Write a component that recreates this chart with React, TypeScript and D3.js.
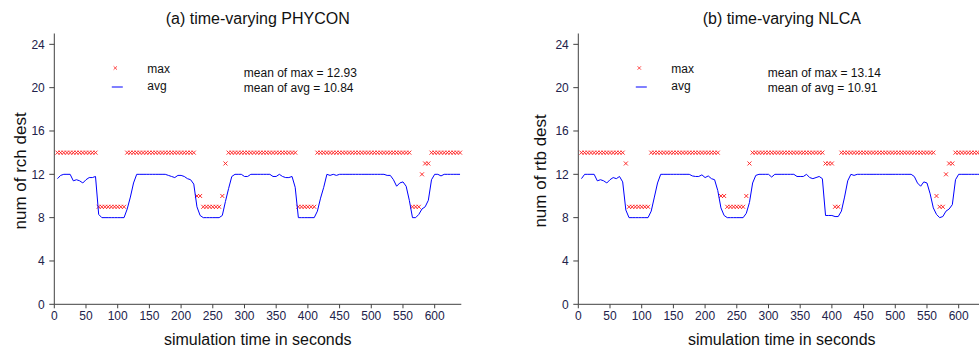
import { useEffect, useRef } from 'react'
import * as d3 from 'd3'

// sampling every 5 s, first sample at t = 5
const STEP = 5

// (a) time-varying PHYCON
const phyconAvg = [
  11.6, 11.9, 12.0, 12.0, 12.0, 11.4, 11.5, 11.4, 11.2, 11.5,
  11.7, 11.7, 11.8, 8.3, 8.0, 8.0, 8.0, 8.0, 8.0, 8.0,
  8.0, 8.0, 8.8, 9.9, 11.2, 12.0, 12.0, 12.0, 12.0, 12.0,
  12.0, 12.0, 12.0, 12.0, 12.0, 11.9, 11.8, 11.7, 11.9, 11.9,
  11.8, 11.6, 11.5, 11.1, 9.0, 8.2, 8.0, 8.0, 8.0, 8.0,
  8.0, 8.0, 8.2, 9.5, 10.7, 11.8, 12.0, 12.0, 12.0, 11.8,
  11.8, 12.0, 12.0, 12.0, 12.0, 12.0, 12.0, 12.0, 11.8, 11.8,
  12.0, 11.8, 11.7, 11.7, 11.8, 10.8, 8.0, 8.0, 8.0, 8.0,
  8.0, 8.0, 8.6, 9.8, 10.8, 12.0, 11.9, 12.0, 11.9, 12.0,
  12.0, 12.0, 12.0, 12.0, 12.0, 12.0, 12.0, 12.0, 12.0, 12.0,
  12.0, 12.0, 12.0, 12.0, 11.9, 11.9, 11.5, 10.9, 11.2, 11.3,
  10.9, 9.6, 8.0, 8.0, 8.3, 8.8, 9.0, 9.6, 11.5, 12.0,
  12.0, 11.85, 12.0, 12.0, 12.0, 12.0, 12.0, 12.0,
]
const phyconMax = [
  14, 14, 14, 14, 14, 14, 14, 14, 14, 14,
  14, 14, 14, 9, 9, 9, 9, 9, 9, 9,
  9, 9, 14, 14, 14, 14, 14, 14, 14, 14,
  14, 14, 14, 14, 14, 14, 14, 14, 14, 14,
  14, 14, 14, 14, 10, 10, 9, 9, 9, 9,
  9, 9, 10, 13, 14, 14, 14, 14, 14, 14,
  14, 14, 14, 14, 14, 14, 14, 14, 14, 14,
  14, 14, 14, 14, 14, 14, 9, 9, 9, 9,
  9, 9, 14, 14, 14, 14, 14, 14, 14, 14,
  14, 14, 14, 14, 14, 14, 14, 14, 14, 14,
  14, 14, 14, 14, 14, 14, 14, 14, 14, 14,
  14, 14, 9, 9, 9, 12, 13, 13, 14, 14,
  14, 14, 14, 14, 14, 14, 14, 14,
]

// (b) time-varying NLCA
const nlcaAvg = [
  11.6, 12.0, 12.0, 12.0, 12.0, 11.4, 11.5, 11.4, 11.2, 11.5,
  11.7, 11.6, 11.8, 11.3, 8.7, 8.0, 8.0, 8.0, 8.0, 8.0,
  8.0, 8.0, 8.6, 9.9, 11.2, 12.0, 12.0, 12.0, 12.0, 12.0,
  12.0, 12.0, 12.0, 12.0, 12.0, 11.85, 11.8, 11.8, 11.95, 11.7,
  11.85, 11.6, 11.5, 10.5, 8.9, 8.2, 8.0, 8.0, 8.0, 8.0,
  8.0, 8.0, 8.4, 9.4, 11.2, 11.9, 12.0, 12.0, 12.0, 12.0,
  11.75, 12.0, 12.0, 12.0, 12.0, 12.0, 12.0, 12.0, 11.8, 11.8,
  11.8, 12.0, 11.7, 11.6, 11.7, 11.8, 11.6, 8.2, 8.2, 8.2,
  8.1, 8.1, 8.6, 9.9, 11.4, 12.0, 11.9, 12.0, 12.0, 12.0,
  12.0, 12.0, 12.0, 12.0, 12.0, 12.0, 12.0, 12.0, 12.0, 12.0,
  12.0, 12.0, 12.0, 12.0, 12.0, 11.8, 11.2, 10.9, 11.3, 11.2,
  10.2, 8.9, 8.3, 8.0, 8.1, 8.6, 8.8, 9.2, 11.5, 12.0,
  12.0, 12.0, 12.0, 12.0, 12.0, 12.0, 12.0, 12.0,
]
const nlcaMax = [
  14, 14, 14, 14, 14, 14, 14, 14, 14, 14,
  14, 14, 14, 14, 13, 9, 9, 9, 9, 9,
  9, 9, 14, 14, 14, 14, 14, 14, 14, 14,
  14, 14, 14, 14, 14, 14, 14, 14, 14, 14,
  14, 14, 14, 14, 10, 10, 9, 9, 9, 9,
  9, 9, 10, 13, 14, 14, 14, 14, 14, 14,
  14, 14, 14, 14, 14, 14, 14, 14, 14, 14,
  14, 14, 14, 14, 14, 14, 14, 13, 13, 13,
  9, 9, 14, 14, 14, 14, 14, 14, 14, 14,
  14, 14, 14, 14, 14, 14, 14, 14, 14, 14,
  14, 14, 14, 14, 14, 14, 14, 14, 14, 14,
  14, 14, 10, 9, 9, 12, 13, 13, 14, 14,
  14, 14, 14, 14, 14, 14, 14, 14,
]

const xTicks = [0, 50, 100, 150, 200, 250, 300, 350, 400, 450, 500, 550, 600]
const yTicks = [0, 4, 8, 12, 16, 20, 24]

const panels = [
  { title: '(a) time-varying PHYCON', yLabel: 'num of rch dest', avg: phyconAvg, max: phyconMax, meanMax: '12.93', meanAvg: '10.84', x0: 54.3, labelOff: 28 },
  { title: '(b) time-varying NLCA', yLabel: 'num of rtb dest', avg: nlcaAvg, max: nlcaMax, meanMax: '13.14', meanAvg: '10.91', x0: 578.3, labelOff: 32 },
]

const W = 979
const H = 349
const FONT = 'Arial, "Liberation Sans", sans-serif'

export default function App() {
  const svgRef = useRef<SVGSVGElement>(null)

  useEffect(() => {
    const svg = d3.select(svgRef.current)
    svg.selectAll('*').remove()

    const C = { axis: '#404040', text: '#111', tick: '#22224a', max: '#ff1a1a', avg: '#0000ff' }
    const cross = 'M-2,-2L2,2M2,-2L-2,2'
    const crossSm = 'M-1.7,-1.7L1.7,1.7M1.7,-1.7L-1.7,1.7'
    const yTop = 33.5, yBot = 304.3, plotW = 407

    panels.forEach(p => {
      const x = d3.scaleLinear().domain([0, 642]).range([p.x0, p.x0 + plotW])
      const y = d3.scaleLinear().domain([0, 25]).range([yBot, yTop])
      const g = svg.append('g')

      // title
      g.append('text').attr('x', p.x0 + plotW / 2).attr('y', 24).attr('text-anchor', 'middle')
        .attr('font-size', 16).attr('fill', C.text).text(p.title)

      // axes
      g.append('line').attr('x1', p.x0).attr('x2', p.x0).attr('y1', yTop).attr('y2', yBot).attr('stroke', C.axis).attr('stroke-width', 1)
      g.append('line').attr('x1', p.x0).attr('x2', p.x0 + plotW).attr('y1', yBot).attr('y2', yBot).attr('stroke', C.axis).attr('stroke-width', 1)

      yTicks.forEach(v => {
        g.append('line').attr('x1', p.x0 - 5).attr('x2', p.x0).attr('y1', y(v)).attr('y2', y(v)).attr('stroke', C.axis)
        g.append('text').attr('x', p.x0 - 9.5).attr('y', y(v) + 4.5).attr('text-anchor', 'end')
          .attr('font-size', 12).attr('fill', C.tick).text(v)
      })
      xTicks.forEach(v => {
        g.append('line').attr('x1', x(v)).attr('x2', x(v)).attr('y1', yBot).attr('y2', yBot + 4).attr('stroke', C.axis)
        g.append('text').attr('x', x(v)).attr('y', yBot + 16).attr('text-anchor', 'middle')
          .attr('font-size', 12).attr('fill', C.tick).text(v)
      })

      // axis labels
      g.append('text').attr('x', p.x0 + plotW / 2).attr('y', yBot + 41).attr('text-anchor', 'middle')
        .attr('font-size', 16).attr('fill', C.text).text('simulation time in seconds')
      const ly = (yTop + yBot) / 2 + 2
      const lx = p.x0 - p.labelOff
      g.append('text').attr('x', lx).attr('y', ly).attr('text-anchor', 'middle')
        .attr('transform', `rotate(-90, ${lx}, ${ly})`)
        .attr('font-size', 17).attr('fill', C.text).text(p.yLabel)

      // max markers
      g.selectAll('.mx').data(p.max).enter().append('path')
        .attr('d', cross).attr('transform', (d, i) => `translate(${x((i + 1) * STEP)},${y(d)})`)
        .attr('fill', 'none').attr('stroke', C.max).attr('stroke-width', 0.9)

      // avg line
      const line = d3.line<number>().x((d, i) => x((i + 1) * STEP)).y(d => y(d))
      g.append('path').datum(p.avg).attr('d', line).attr('fill', 'none').attr('stroke', C.avg).attr('stroke-width', 1)

      // legend
      g.append('path').attr('d', crossSm).attr('transform', `translate(${p.x0 + 61},68)`)
        .attr('fill', 'none').attr('stroke', C.max).attr('stroke-width', 0.8)
      g.append('line').attr('x1', p.x0 + 57.5).attr('x2', p.x0 + 68.5).attr('y1', 87).attr('y2', 87).attr('stroke', C.avg)
      g.append('text').attr('x', p.x0 + 93).attr('y', 73).attr('font-size', 12).attr('fill', C.text).text('max')
      g.append('text').attr('x', p.x0 + 93).attr('y', 90).attr('font-size', 12).attr('fill', C.text).text('avg')
      g.append('text').attr('x', p.x0 + 189.5).attr('y', 77).attr('font-size', 12).attr('fill', C.text).text(`mean of max = ${p.meanMax}`)
      g.append('text').attr('x', p.x0 + 189.5).attr('y', 92).attr('font-size', 12).attr('fill', C.text).text(`mean of avg = ${p.meanAvg}`)
    })
  }, [])

  return (
    <svg ref={svgRef} width={W} height={H}
      style={{ position: 'absolute', left: 0, top: 0, background: '#fff', fontFamily: FONT }} />
  )
}
